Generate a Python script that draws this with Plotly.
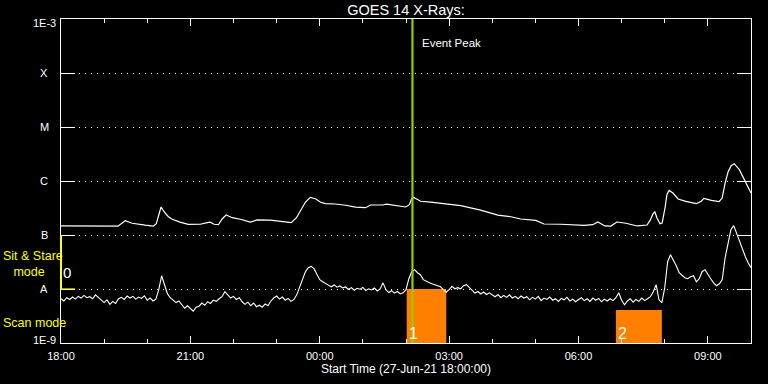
import numpy as np
import pandas as pd
import plotly.graph_objects as go

# ---------------- data ----------------
START = pd.Timestamp("2021-06-27 18:00:00")
END = pd.Timestamp("2021-06-28 10:00:00")
TITLE = "GOES 14 X-Rays:"
XTITLE = "Start Time (27-Jun-21 18:00:00)"

# long channel (1-8 A): hours after start, flux in units of 1e-7 W/m^2
LONG_HOURS = [0.00, 0.44, 0.91, 1.32, 1.49, 1.65, 1.95, 2.14, 2.21, 2.28,
              2.32, 2.39, 2.49, 2.58, 2.76, 2.95, 3.23, 3.39, 3.46, 3.55,
              3.65, 3.74, 3.83, 3.97, 4.16, 4.39, 4.55, 4.85, 5.16, 5.34,
              5.46, 5.55, 5.67, 5.78, 5.90, 6.02, 6.13, 6.36, 6.60, 6.83,
              7.06, 7.18, 7.46, 7.55, 7.76, 7.99, 8.08, 8.13, 8.18, 8.34,
              8.57, 8.92, 9.27, 9.73, 10.13, 10.43, 10.66, 11.01, 11.20, 11.59,
              12.13, 12.33, 12.45, 12.61, 12.75, 12.89, 13.10, 13.36, 13.59, 13.66,
              13.73, 13.77, 13.82, 13.89, 13.94, 14.01, 14.05, 14.10, 14.19, 14.31,
              14.49, 14.73, 14.84, 14.91, 15.08, 15.26, 15.33, 15.40, 15.47, 15.54,
              15.61, 15.73, 15.84, 15.96, 16.00]
LONG_FLUX_E7 = [1.47, 1.46, 1.44, 1.46, 1.84, 1.65, 1.52, 1.46, 1.62, 2.70,
                3.30, 2.70, 2.18, 1.96, 1.73, 1.57, 1.58, 1.69, 1.73, 1.58,
                1.55, 2.00, 2.35, 2.09, 1.96, 1.73, 1.90, 1.88, 1.79, 1.69,
                2.09, 2.73, 4.08, 4.97, 4.70, 4.05, 3.80, 3.75, 3.56, 3.27,
                3.20, 3.59, 3.59, 3.72, 3.49, 3.30, 3.64, 4.70, 4.97, 4.22,
                4.05, 3.80, 3.49, 2.88, 2.33, 2.18, 1.98, 1.86, 1.60, 1.58,
                1.51, 1.55, 1.74, 1.47, 1.46, 1.74, 1.65, 1.47, 1.53, 1.86,
                2.48, 2.70, 2.07, 1.62, 1.67, 3.30, 5.58, 6.70, 5.99, 4.64,
                4.19, 3.80, 4.19, 4.76, 4.37, 4.14, 4.84, 9.17, 14.9, 19.2,
                20.9, 16.2, 10.6, 7.11, 5.99]

# short channel (0.5-4 A): 4-minute cadence from start, flux in units of 1e-9 W/m^2
SHORT_CADENCE_MIN = 4
SHORT_FLUX_E9 = [6.6, 6.0, 6.9, 6.4, 7.1, 6.5, 7.3, 6.8, 7.6, 6.9,
                 7.2, 6.6, 7.8, 7.0, 6.2, 5.6, 6.3, 5.2, 5.9, 5.4,
                 6.6, 7.0, 6.4, 7.4, 6.8, 7.3, 6.5, 7.1, 6.7, 7.5,
                 6.2, 6.8, 6.0, 6.5, 9.7, 17.6, 12.0, 8.2, 6.9, 6.3,
                 5.6, 6.0, 5.0, 4.4, 4.9, 4.3, 3.9, 4.6, 4.8, 5.5,
                 5.0, 5.8, 5.4, 6.2, 5.9, 6.6, 7.2, 8.9, 7.9, 6.8,
                 7.3, 6.4, 6.9, 5.8, 5.2, 5.7, 4.9, 5.5, 4.7, 5.0,
                 4.6, 5.3, 4.9, 6.0, 6.8, 7.4, 6.5, 7.1, 6.2, 6.7,
                 5.9, 6.4, 7.8, 10.6, 14.9, 20.9, 24.8, 26.2, 23.8, 19.2,
                 14.9, 13.6, 12.5, 11.8, 11.0, 11.9, 10.8, 11.4, 10.5, 10.9,
                 9.8, 10.6, 9.5, 10.3, 9.9, 10.7, 9.4, 10.1, 9.6, 10.4,
                 9.2, 10.0, 13.0, 9.7, 8.6, 9.3, 8.4, 9.0, 8.1, 8.5,
                 9.7, 15.5, 20.9, 22.8, 20.0, 18.4, 14.9, 13.8, 13.2, 12.5,
                 12.0, 11.5, 11.0, 9.7, 8.7, 9.7, 11.2, 10.1, 10.6, 10.1,
                 11.5, 12.0, 10.6, 9.3, 8.4, 9.0, 8.1, 8.8, 7.9, 8.5,
                 7.7, 7.2, 7.9, 6.9, 7.6, 7.0, 7.8, 6.8, 7.3, 6.6,
                 7.4, 6.8, 7.2, 6.3, 7.0, 6.5, 7.3, 6.1, 6.8, 6.4,
                 7.1, 6.2, 6.6, 5.9, 6.7, 6.3, 7.0, 6.0, 6.5, 5.8,
                 6.4, 6.9, 6.1, 6.6, 5.9, 6.8, 6.2, 6.7, 5.8, 6.5,
                 6.0, 6.6, 6.1, 6.9, 8.5, 6.2, 5.1, 6.0, 6.6, 5.7,
                 6.4, 5.9, 6.8, 6.1, 6.6, 7.2, 8.9, 12.0, 6.3, 5.6,
                 10.6, 32.0, 43.2, 34.9, 27.0, 20.0, 17.6, 16.2, 15.5, 16.9,
                 17.6, 13.6, 15.5, 20.9, 22.8, 18.4, 15.5, 13.0, 11.5, 12.5,
                 14.9, 38.0, 75.0, 125.0, 149.0, 106.0, 73.0, 53.5, 40.0, 30.7,
                 24.8]

EVENT_PEAK = pd.Timestamp("2021-06-28 02:09:00")
EVENT_LABEL = "Event Peak"

MODE_IDS = ["1", "2"]
MODE_START = [pd.Timestamp("2021-06-28 02:01"), pd.Timestamp("2021-06-28 06:52")]
MODE_END = [pd.Timestamp("2021-06-28 02:56"), pd.Timestamp("2021-06-28 07:56")]
MODE_TOP = [1.0e-8, 4.1e-9]
MODE0_LABEL = "0"
MODE0_TOP = 1e-7
MODE0_BOTTOM = 1e-8
SIT_STARE_LABEL = "Sit & Stare<br>&nbsp;&nbsp;&nbsp;mode"
SCAN_LABEL = "Scan mode"

YTICK_VALS = [1e-9, 1e-8, 1e-7, 1e-6, 1e-5, 1e-4, 1e-3]
YTICK_TEXT = ["1E-9", "A", "B", "C", "M", "X", "1E-3"]
YMIN, YMAX = 1e-9, 1e-3

# ---------------- styling ----------------
FONT = "Liberation Sans, Arial, sans-serif"
WHITE = "white"
YELLOW = "#ffff00"
ORANGE = "#ff8000"
GREEN = "#99cc00"

long_t = START + pd.to_timedelta(np.array(LONG_HOURS), unit="h")
long_f = np.array(LONG_FLUX_E7) * 1e-7
short_t = START + pd.to_timedelta(np.arange(len(SHORT_FLUX_E9)) * SHORT_CADENCE_MIN, unit="min")
short_f = np.array(SHORT_FLUX_E9) * 1e-9

fig = go.Figure()

# mode bars
for s, e, top in zip(MODE_START, MODE_END, MODE_TOP):
    fig.add_trace(go.Scatter(x=[s, s, e, e, s], y=[YMIN, top, top, YMIN, YMIN],
                             mode="lines", fill="toself", fillcolor=ORANGE,
                             line=dict(width=0, color=ORANGE), hoverinfo="skip",
                             showlegend=False))

# curves
fig.add_trace(go.Scatter(x=long_t, y=long_f, mode="lines",
                         line=dict(color=WHITE, width=1.2), showlegend=False))
fig.add_trace(go.Scatter(x=short_t, y=short_f, mode="lines",
                         line=dict(color=WHITE, width=1.1), showlegend=False))

# event peak line
fig.add_trace(go.Scatter(x=[EVENT_PEAK, EVENT_PEAK], y=[YMIN, YMAX], mode="lines",
                         line=dict(color=GREEN, width=2.2), showlegend=False))

annotations = []
# y tick labels (centred like the original)
for v, t in zip(YTICK_VALS, YTICK_TEXT):
    ys = 0
    if v == YMAX:
        ys = -4
    elif v == YMIN:
        ys = 3
    annotations.append(dict(x=0, xref="paper", xshift=-17, xanchor="center",
                            y=np.log10(v), yref="y", yanchor="middle", yshift=ys,
                            text=t, showarrow=False,
                            font=dict(family=FONT, size=11, color=WHITE)))

# event label
annotations.append(dict(x=EVENT_PEAK, xref="x", xanchor="left", xshift=8,
                        y=0.926, yref="paper", yanchor="middle",
                        text=EVENT_LABEL, showarrow=False,
                        font=dict(family=FONT, size=11.5, color=WHITE)))

# mode bar labels
for s, lab in zip(MODE_START, MODE_IDS):
    annotations.append(dict(x=s, xref="x", xanchor="left", xshift=0,
                            y=0, yref="paper", yanchor="bottom", yshift=-1,
                            text=lab, showarrow=False,
                            font=dict(family=FONT, size=16, color=WHITE)))
annotations.append(dict(x=START, xref="x", xanchor="left", xshift=0,
                        y=0.2176, yref="paper", yanchor="middle",
                        text=MODE0_LABEL, showarrow=False,
                        font=dict(family=FONT, size=15, color=WHITE)))

# mode legend texts
annotations.append(dict(x=0, xref="paper", xshift=-60, xanchor="left", align="left",
                        y=0.2423, yref="paper", yanchor="middle",
                        text=SIT_STARE_LABEL, showarrow=False,
                        font=dict(family=FONT, size=12.5, color=YELLOW)))
annotations.append(dict(x=0, xref="paper", xshift=-60, xanchor="left",
                        y=0.0617, yref="paper", yanchor="middle",
                        text=SCAN_LABEL, showarrow=False,
                        font=dict(family=FONT, size=12.5, color=YELLOW)))

shapes = [
    dict(type="line", xref="paper", yref="y", x0=0, x1=0, y0=MODE0_TOP, y1=MODE0_BOTTOM,
         line=dict(color=YELLOW, width=2), layer="above"),
    dict(type="line", xref="paper", yref="y", x0=0, x1=14 / 690, y0=MODE0_BOTTOM, y1=MODE0_BOTTOM,
         line=dict(color=YELLOW, width=1.2), layer="above"),
]

fig.update_layout(
    width=768, height=384,
    margin=dict(l=61, r=17, t=19, b=41, autoexpand=False),
    paper_bgcolor="black", plot_bgcolor="black",
    title=dict(text=TITLE, x=0.5, xref="paper", xanchor="center",
               y=1 - 10 / 384, yref="container", yanchor="middle",
               font=dict(family=FONT, size=14.5, color=WHITE)),
    showlegend=False,
    hovermode=False,
    annotations=annotations,
    shapes=shapes,
    xaxis=dict(type="date", range=[START, END],
               showline=True, linecolor=WHITE, linewidth=1, mirror="allticks",
               ticks="inside", ticklen=7, tickwidth=1, tickcolor=WHITE,
               tick0=START, dtick=3 * 3600 * 1000, tickformat="%H:%M",
               ticklabelstandoff=3,
               tickfont=dict(family=FONT, size=11, color=WHITE),
               minor=dict(dtick=3600 * 1000, tick0=START, ticks="inside",
                          ticklen=4, tickcolor=WHITE, tickwidth=1, showgrid=False),
               showgrid=False, zeroline=False,
               title=dict(text=XTITLE, standoff=3,
                          font=dict(family=FONT, size=12, color=WHITE))),
    yaxis=dict(type="log", range=[np.log10(YMIN), np.log10(YMAX)],
               showline=True, linecolor=WHITE, linewidth=1, mirror="allticks",
               ticks="inside", ticklen=14, tickwidth=1, tickcolor=WHITE,
               tickvals=YTICK_VALS, showticklabels=False,
               showgrid=True, gridcolor=WHITE, gridwidth=1, griddash="1px,5px",
               zeroline=False),
)

fig.write_html("out.html",
               config={"displayModeBar": False},
               post_script="document.body.style.margin='0';document.body.style.background='black';")
